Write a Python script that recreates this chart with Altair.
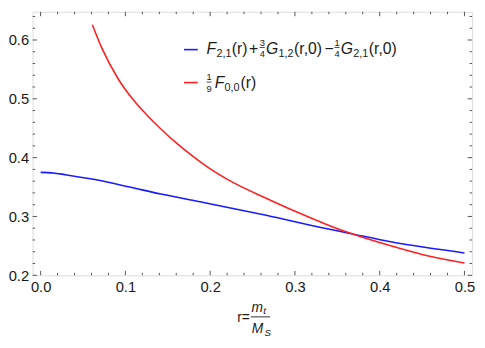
import altair as alt
import pandas as pd

# ---- data ----
blue_x = [0.000, 0.015, 0.029, 0.067, 0.105, 0.142, 0.195, 0.266, 0.338, 0.362, 0.413, 0.451, 0.500]
blue_y = [0.375, 0.374, 0.371, 0.362, 0.350, 0.338, 0.323, 0.302, 0.279, 0.272, 0.257, 0.248, 0.238]

red_x = [0.061, 0.072, 0.091, 0.110, 0.125, 0.141, 0.160, 0.179, 0.201, 0.228, 0.266,
         0.303, 0.338, 0.362, 0.413, 0.451, 0.500]
red_y = [0.626, 0.587, 0.535, 0.497, 0.473, 0.450, 0.425, 0.403, 0.380, 0.357, 0.331,
         0.307, 0.286, 0.273, 0.250, 0.235, 0.221]

x_major = [0.0, 0.1, 0.2, 0.3, 0.4, 0.5]
x_minor = [0.02, 0.04, 0.06, 0.08, 0.12, 0.14, 0.16, 0.18, 0.22, 0.24, 0.26, 0.28,
           0.32, 0.34, 0.36, 0.38, 0.42, 0.44, 0.46, 0.48]
y_major = [0.2, 0.3, 0.4, 0.5, 0.6]
y_minor = [0.22, 0.24, 0.26, 0.28, 0.32, 0.34, 0.36, 0.38, 0.42, 0.44, 0.46, 0.48,
           0.52, 0.54, 0.56, 0.58, 0.62, 0.64]

# ---- styling ----
W, H = 447, 268
FONT = "Liberation Sans"
TXT = "#1a1a1a"
FRAME = "#555555"
BLUE = "#1a1aff"
RED = "#ff2020"

xscale = alt.Scale(domain=[-0.0095, 0.509], nice=False, zero=False)
yscale = alt.Scale(domain=[0.2, 0.648], nice=False, zero=False)

x_axis = alt.Axis(values=x_major, format=".1f", ticks=False, domain=False, grid=False,
                  labelFontSize=15, labelFont=FONT, labelColor=TXT, labelPadding=5,
                  title=None, labelFlush=False)
y_axis = alt.Axis(values=y_major, format=".1f", ticks=False, domain=False, grid=False,
                  labelFontSize=15, labelFont=FONT, labelColor=TXT, labelPadding=4,
                  title=None)

blue_df = pd.DataFrame({"x": blue_x, "y": blue_y})
red_df = pd.DataFrame({"x": red_x, "y": red_y})

blue = alt.Chart(blue_df).mark_line(color=BLUE, strokeWidth=1.6, interpolate="monotone").encode(
    x=alt.X("x:Q", scale=xscale, axis=x_axis),
    y=alt.Y("y:Q", scale=yscale, axis=y_axis),
)
red = alt.Chart(red_df).mark_line(color=RED, strokeWidth=1.6, interpolate="monotone").encode(
    x=alt.X("x:Q", scale=xscale, axis=x_axis),
    y=alt.Y("y:Q", scale=yscale, axis=y_axis),
)


def xticks(vals, y0, y1):
    return alt.Chart(pd.DataFrame({"x": vals})).mark_rule(color=FRAME, strokeWidth=1).encode(
        x=alt.X("x:Q", scale=xscale, axis=x_axis), y=alt.value(y0), y2=alt.value(y1))


def yticks(vals, x0, x1):
    return alt.Chart(pd.DataFrame({"y": vals})).mark_rule(color=FRAME, strokeWidth=1).encode(
        y=alt.Y("y:Q", scale=yscale, axis=y_axis), x=alt.value(x0), x2=alt.value(x1))


ticks = [
    xticks(x_major, H, H - 4.5), xticks(x_minor, H, H - 2.5),
    xticks(x_major, 0, 4.5), xticks(x_minor, 0, 2.5),
    yticks(y_major, 0, 4.5), yticks(y_minor, 0, 2.5),
    yticks(y_major, W, W - 4.5), yticks(y_minor, W, W - 2.5),
]

one = pd.DataFrame({"k": [0]})


def txt(s, x, y, size=16, italic=False, align="left"):
    return alt.Chart(one).mark_text(
        text=s, font=FONT, fontSize=size, fontStyle="italic" if italic else "normal",
        color=TXT, align=align, baseline="alphabetic"
    ).encode(x=alt.value(x), y=alt.value(y))


def hline(x0, x1, y, color=TXT, width=1.0):
    return alt.Chart(one).mark_rule(color=color, strokeWidth=width).encode(
        x=alt.value(x0), x2=alt.value(x1), y=alt.value(y))


# ---- legend (row 1) ----
L1 = 38.5
B1 = L1 + 4.6   # main baseline
S1 = L1 + 7.6   # subscript baseline
leg = [
    hline(154, 168, L1, BLUE, 1.6),
    txt("F", 177, B1, 16, True),
    txt("2,1", 187, S1, 11),
    txt("(r)", 202.5, B1),
    txt("+", 220, B1),
    txt("3", 233.6, L1 - 4, 9.5, align="center"),
    hline(231, 236.2, L1 - 2.2, TXT, 0.8),
    txt("4", 233.6, L1 + 7.6, 9.5, align="center"),
    txt("G", 237.5, B1, 16, True),
    txt("1,2", 250.2, S1, 11),
    txt("(r,0)", 266, B1),
    txt("\u2212", 297, B1),
    txt("1", 309.6, L1 - 4, 9.5, align="center"),
    hline(307, 312.2, L1 - 2.2, TXT, 0.8),
    txt("4", 309.6, L1 + 7.6, 9.5, align="center"),
    txt("G", 313.5, B1, 16, True),
    txt("2,1", 326.2, S1, 11),
    txt("(r,0)", 342, B1),
]

# ---- legend (row 2) ----
L2 = 72
leg += [
    hline(154, 168, L2, RED, 1.6),
    txt("1", 179.5, L2 - 2.7, 9.5, align="center"),
    hline(177, 182, L2 - 0.5, TXT, 0.8),
    txt("9", 179.5, L2 + 9.5, 9.5, align="center"),
    txt("F", 185.3, L2 + 5.7, 16, True),
    txt("0,0", 195.3, L2 + 8.8, 11),
    txt("(r)", 211.5, L2 + 5.7),
]

# ---- x-axis title r = m_t / M_S ----
ttl = [
    txt("r=", 221, 316, 14, align="right"),
    hline(222, 241.7, 310.3, TXT, 0.9),
    txt("m", 222.7, 305, 14, True),
    txt("t", 234.5, 307.5, 10, True),
    txt("M", 223, 326.7, 14, True),
    txt("S", 236, 330, 10, True),
]

chart = alt.layer(blue, red, *ticks, *leg, *ttl).properties(
    width=W, height=H,
    autosize=alt.AutoSizeParams(type="none"),
    padding={"left": 25, "top": 1, "right": 5, "bottom": 63},
).configure_view(stroke=FRAME, strokeWidth=1).configure(background="white")

chart.save("out.html", embed_options={"renderer": "svg", "actions": False})
